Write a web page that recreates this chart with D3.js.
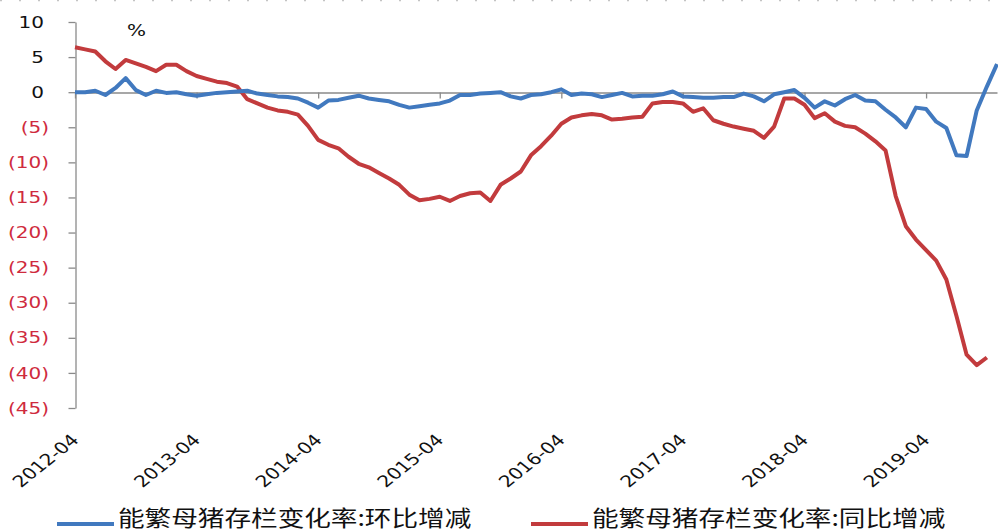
<!DOCTYPE html>
<html>
<head>
<meta charset="utf-8">
<script src="https://cdn.jsdelivr.net/npm/d3@7"></script>
<style>
  html, body { margin: 0; padding: 0; background: #fff; }
  svg { display: block; }
</style>
</head>
<body>
<svg id="chart" width="998" height="532"></svg>
<script>
// Monthly change in breeding-sow inventory (%), 2012-04 onward
const startMonth = "2012-04";
const seriesNames = ["能繁母猪存栏变化率:环比增减", "能繁母猪存栏变化率:同比增减"];

// month-on-month change, 2012-04 .. 2019-11
const momValues = [
  0.0, 0.0, 0.2, -0.4, 0.6, 2.0, 0.3, -0.4, 0.2, -0.1, 0.0, -0.3,
  -0.5, -0.3, -0.1, 0.0, 0.1, 0.2, -0.2, -0.4, -0.6, -0.7, -0.9, -1.5,
  -2.2, -1.2, -1.1, -0.8, -0.5, -0.9, -1.1, -1.3, -1.8, -2.2, -2.0, -1.8,
  -1.6, -1.2, -0.4, -0.4, -0.2, -0.1, 0.0, -0.6, -0.9, -0.4, -0.3, 0.0,
  0.4, -0.4, -0.2, -0.3, -0.7, -0.4, -0.1, -0.6, -0.5, -0.5, -0.3, 0.1,
  -0.6, -0.7, -0.8, -0.8, -0.7, -0.7, -0.2, -0.6, -1.3, -0.3, 0.0, 0.3,
  -0.8, -2.2, -1.3, -1.9, -1.0, -0.4, -1.2, -1.3, -2.5, -3.6, -5.0, -2.2,
  -2.4, -4.2, -5.1, -9.0, -9.1, -2.6, 0.8, 4.0
];

// year-on-year change, 2012-04 .. 2019-10
const yoyValues = [
  6.4, 6.1, 5.8, 4.4, 3.3, 4.6, 4.1, 3.6, 3.0, 3.9, 3.9, 3.0,
  2.3, 1.9, 1.5, 1.3, 0.8, -1.0, -1.6, -2.2, -2.6, -2.8, -3.2, -4.8,
  -6.8, -7.5, -8.0, -9.2, -10.2, -10.7, -11.5, -12.3, -13.2, -14.6, -15.4, -15.2,
  -14.9, -15.5, -14.8, -14.4, -14.3, -15.5, -13.2, -12.3, -11.3, -9.0, -7.7, -6.2,
  -4.5, -3.6, -3.3, -3.1, -3.3, -3.9, -3.8, -3.6, -3.5, -1.6, -1.4, -1.4,
  -1.6, -2.8, -2.3, -4.0, -4.5, -4.9, -5.2, -5.5, -6.5, -4.9, -0.9, -0.9,
  -1.8, -3.7, -3.0, -4.2, -4.8, -5.0, -5.9, -7.0, -8.3, -14.8, -19.1, -21.0,
  -22.5, -24.0, -26.7, -31.9, -37.4, -38.9, -37.8
];

const yTicks = [10, 5, 0, -5, -10, -15, -20, -25, -30, -35, -40, -45];
const xTickLabels = ["2012-04", "2013-04", "2014-04", "2015-04", "2016-04", "2017-04", "2018-04", "2019-04"];

const colors = { mom: "#4179bf", yoy: "#c23b3d", axis: "#8a8a8a", neg: "#cf2b3e" };
const SX = 1.25; // horizontal text stretch

// month categories
const fmt = d3.timeFormat("%Y-%m");
const t0 = d3.timeParse("%Y-%m")(startMonth);
const months = d3.range(momValues.length).map(i => fmt(d3.timeMonth.offset(t0, i)));

const svg = d3.select("#chart");

const x = d3.scalePoint().domain(months).range([75, 997]);
const y = d3.scaleLinear().domain([-45, 10]).range([408, 22]);

// faint dotted frame line along the top
svg.append("line")
  .attr("x1", 0).attr("x2", 998).attr("y1", 0.5).attr("y2", 0.5)
  .attr("stroke", "#c4c4c4").attr("stroke-width", 1.5)
  .attr("stroke-dasharray", "2,17");

// y axis
const yAxis = svg.append("g")
  .attr("transform", "translate(75.5,0)")
  .call(d3.axisLeft(y).tickValues(yTicks).tickSize(7).tickSizeOuter(0).tickFormat(""));
yAxis.select(".domain").attr("stroke", colors.axis).attr("stroke-width", 1.3);
yAxis.selectAll(".tick line").attr("stroke", colors.axis).attr("stroke-width", 1.3);

// y tick labels, negatives in parentheses and red
svg.append("g").selectAll("text")
  .data(yTicks)
  .join("text")
  .attr("transform", d => `translate(${d < 0 ? 49 : 44},${y(d)}) scale(${SX},1)`)
  .attr("dy", "0.35em")
  .attr("text-anchor", "end")
  .attr("font-family", "DejaVu Sans, Verdana, sans-serif")
  .attr("font-size", 16)
  .attr("fill", d => d < 0 ? colors.neg : "#111")
  .text(d => d < 0 ? `(${-d})` : d);

// unit label
svg.append("text")
  .attr("transform", `translate(127,36) scale(${SX},1)`)
  .attr("font-family", "DejaVu Sans, Verdana, sans-serif")
  .attr("font-size", 16)
  .attr("fill", "#111")
  .text("%");

// x axis on the zero line
const xTickMonths = months.filter(m => xTickLabels.includes(m));
const xAxis = svg.append("g")
  .attr("transform", `translate(0,${Math.round(y(0)) + 0.5})`)
  .call(d3.axisBottom(x).tickValues(xTickMonths).tickSize(6).tickSizeOuter(0).tickFormat(""));
xAxis.select(".domain").attr("stroke", colors.axis).attr("stroke-width", 1.3);
xAxis.selectAll(".tick line").attr("stroke", colors.axis).attr("stroke-width", 1.3);

// rotated x labels below the plot
svg.append("g").selectAll("text")
  .data(xTickLabels)
  .join("text")
  .attr("transform", d => `translate(${x(d) + 5},441) scale(${SX},1) rotate(-45)`)
  .attr("text-anchor", "end")
  .attr("font-family", "DejaVu Sans, Verdana, sans-serif")
  .attr("font-size", 16)
  .attr("fill", "#111")
  .text(d => d);

// series lines
const line = d3.line()
  .x((d, i) => x(months[i]))
  .y(d => y(d));

svg.append("path")
  .datum(yoyValues)
  .attr("fill", "none")
  .attr("stroke", colors.yoy)
  .attr("stroke-width", 4)
  .attr("stroke-linejoin", "round")
  .attr("d", line);

svg.append("path")
  .datum(momValues)
  .attr("fill", "none")
  .attr("stroke", colors.mom)
  .attr("stroke-width", 4)
  .attr("stroke-linejoin", "round")
  .attr("d", line);

// legend
const legend = [
  { name: seriesNames[0], color: colors.mom, x: 57 },
  { name: seriesNames[1], color: colors.yoy, x: 531 }
];
const lg = svg.append("g").selectAll("g").data(legend).join("g")
  .attr("transform", d => `translate(${d.x},524)`);
lg.append("line")
  .attr("x1", 0).attr("x2", 57).attr("y1", 0).attr("y2", 0)
  .attr("stroke", d => d.color).attr("stroke-width", 4);
lg.append("text")
  .attr("transform", `translate(61,2) scale(${SX},1)`)
  .attr("font-family", "Noto Sans CJK SC, sans-serif")
  .attr("font-size", 21.3)
  .attr("fill", "#111")
  .text(d => d.name);
</script>
</body>
</html>
